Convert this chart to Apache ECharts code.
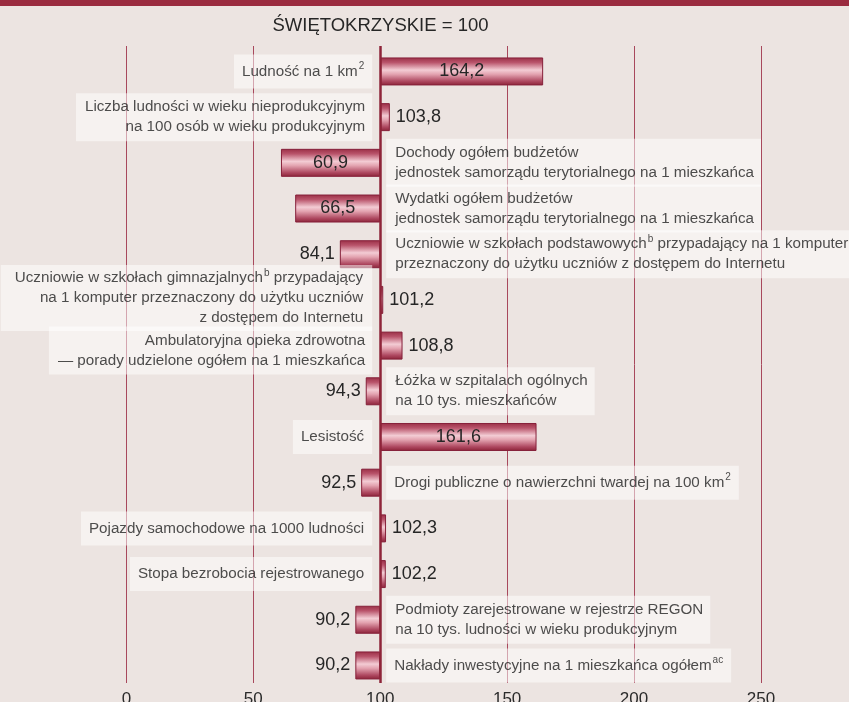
<!DOCTYPE html>
<html>
<head>
<meta charset="utf-8">
<script src="https://cdn.jsdelivr.net/npm/echarts@6/dist/echarts.min.js"></script>
<style>
html,body{margin:0;padding:0;background:#ECE4E1;}
#chart{width:849px;height:702px;}
</style>
</head>
<body>
<div id="chart"></div>
<script>
// ---- data ----
const categories = [
  "Ludność na 1 km{sup|2}",
  "Liczba ludności w wieku nieprodukcyjnym\nna 100 osób w wieku produkcyjnym",
  "Dochody ogółem budżetów\njednostek samorządu terytorialnego na 1 mieszkańca",
  "Wydatki ogółem budżetów\njednostek samorządu terytorialnego na 1 mieszkańca",
  "Uczniowie w szkołach podstawowych{sup|b} przypadający na 1 komputer\nprzeznaczony do użytku uczniów z dostępem do Internetu",
  "Uczniowie w szkołach gimnazjalnych{sup|b} przypadający\nna 1 komputer przeznaczony do użytku uczniów\nz dostępem do Internetu",
  "Ambulatoryjna opieka zdrowotna\n— porady udzielone ogółem na 1 mieszkańca",
  "Łóżka w szpitalach ogólnych\nna 10 tys. mieszkańców",
  "Lesistość",
  "Drogi publiczne o nawierzchni twardej na 100 km{sup|2}",
  "Pojazdy samochodowe na 1000 ludności",
  "Stopa bezrobocia rejestrowanego",
  "Podmioty zarejestrowane w rejestrze REGON\nna 10 tys. ludności w wieku produkcyjnym",
  "Nakłady inwestycyjne na 1 mieszkańca ogółem{sup|ac}"
];
const values = [164.2, 103.8, 60.9, 66.5, 84.1, 101.2, 108.8, 94.3, 161.6, 92.5, 102.3, 102.2, 90.2, 90.2];
const baseValue = 100;
const xTicks = [0, 50, 100, 150, 200, 250];
const titleText = "ŚWIĘTOKRZYSKIE = 100";

// ---- derived ----
const fmt = v => v.toFixed(1).replace('.', ',');
const X_MIN = -50, X_MAX = 285.3;
const FONT = '"Liberation Sans", Arial, sans-serif';
const GRID_COLOR = '#A8485C';
const labelNudge = { 5: -2, 6: 5 };   // small vertical nudges of crowded label boxes

const baseData = values.map(v => Math.min(v, baseValue));
const deltaData = values.map(v => {
  const d = Math.abs(v - baseValue);
  const pos = d > 25 ? 'inside' : (v >= baseValue ? 'right' : 'left');
  return {
    value: d,
    label: {
      show: true,
      position: pos,
      distance: pos === 'right' ? 6 : 5,
      formatter: fmt(v)
    }
  };
});
const labelData = categories.map((c, i) => {
  const v = values[i];
  const lines = c.split('\n').length;
  const left = v >= baseValue;
  return {
    value: [baseValue, i],
    label: {
      show: true,
      formatter: c,
      position: left ? 'left' : 'right',
      distance: left ? 8 : 6,
      align: left ? 'right' : 'left',
      offset: [0, labelNudge[i] || 0],
      padding: lines === 1 ? [7, 8, 7, 8] : (lines === 2 ? [4, 7, 4, 9] : [3, 9, 3, 14])
    }
  };
});
const splitColors = [X_MIN].concat(xTicks).concat([X_MAX])
  .map(t => xTicks.includes(t) ? GRID_COLOR : 'rgba(0,0,0,0)');

const barGradient = new echarts.graphic.LinearGradient(0, 0, 0, 1, [
  { offset: 0, color: '#9A2E45' },
  { offset: 0.18, color: '#B9546B' },
  { offset: 0.45, color: '#F3CCD4' },
  { offset: 0.6, color: '#E3A3B0' },
  { offset: 0.85, color: '#AE4860' },
  { offset: 1, color: '#8A2237' }
]);

const chart = echarts.init(document.getElementById('chart'), null, { renderer: 'canvas' });
chart.setOption({
  backgroundColor: '#ECE4E1',
  animation: false,
  textStyle: { fontFamily: FONT },
  title: {
    text: titleText,
    left: 375.5,
    top: 11,
    textAlign: 'center',
    textStyle: { fontSize: 18.5, fontWeight: 'normal', color: '#262626', fontFamily: FONT }
  },
  graphic: [{
    type: 'rect', left: 0, top: 0, shape: { width: 849, height: 6 },
    style: { fill: '#9A2B3F' }, z: 10
  }],
  grid: [
    { left: -0.5, right: -1.5, top: 48.6, bottom: 13.7, containLabel: false, outerBoundsMode: 'none' },
    { left: -0.5, right: -1.5, top: 46, bottom: 19, containLabel: false, outerBoundsMode: 'none' }
  ],
  xAxis: [
    { gridIndex: 0, type: 'value', min: X_MIN, max: X_MAX, interval: 50,
      axisLine: { show: false }, axisTick: { show: false }, axisLabel: { show: false }, splitLine: { show: false } },
    { gridIndex: 1, type: 'value', min: X_MIN, max: X_MAX, interval: 50,
      axisLine: { show: false }, axisTick: { show: false },
      axisLabel: {
        fontSize: 17, color: '#2b2b2b', margin: 8, fontFamily: FONT,
        showMinLabel: false, showMaxLabel: false, hideOverlap: false,
        formatter: v => xTicks.includes(v) ? String(v) : ''
      },
      splitLine: { show: true, lineStyle: { color: splitColors, width: 1 } } }
  ],
  yAxis: [
    { gridIndex: 0, type: 'category', data: categories, inverse: true,
      axisLine: { show: false }, axisTick: { show: false }, axisLabel: { show: false }, splitLine: { show: false } },
    { gridIndex: 1, type: 'value', min: 0, max: 1, show: false }
  ],
  series: [
    {
      name: 'base', type: 'bar', stack: 'a', xAxisIndex: 0, yAxisIndex: 0,
      data: baseData, barWidth: 28, silent: true,
      itemStyle: { color: 'rgba(0,0,0,0)' }
    },
    {
      name: 'delta', type: 'bar', stack: 'a', xAxisIndex: 0, yAxisIndex: 0,
      data: deltaData, barWidth: 28,
      itemStyle: { color: barGradient, borderColor: '#86203A', borderWidth: 1 },
      label: { fontSize: 18, color: '#262626', fontFamily: FONT }
    },
    {
      name: 'labels', type: 'scatter', xAxisIndex: 0, yAxisIndex: 0,
      data: labelData, symbolSize: 0, silent: true, z: 4,
      label: {
        fontSize: 15.2, lineHeight: 20, color: '#222', fontFamily: FONT,
        backgroundColor: 'rgba(255,255,255,0.64)',
        rich: {
          sup: { fontSize: 10, lineHeight: 20, verticalAlign: 'top', color: '#222', fontFamily: FONT, padding: [0, 0, 0, 1] }
        }
      }
    },
    {
      name: 'baseline', type: 'scatter', xAxisIndex: 1, yAxisIndex: 1,
      data: [[baseValue, 0.5]], symbolSize: 0, silent: true, z: 5,
      markLine: {
        silent: true, symbol: ['none', 'none'], label: { show: false },
        lineStyle: { color: '#8E2439', width: 2.5, type: 'solid' },
        data: [{ xAxis: baseValue }]
      }
    }
  ]
});
</script>
</body>
</html>
